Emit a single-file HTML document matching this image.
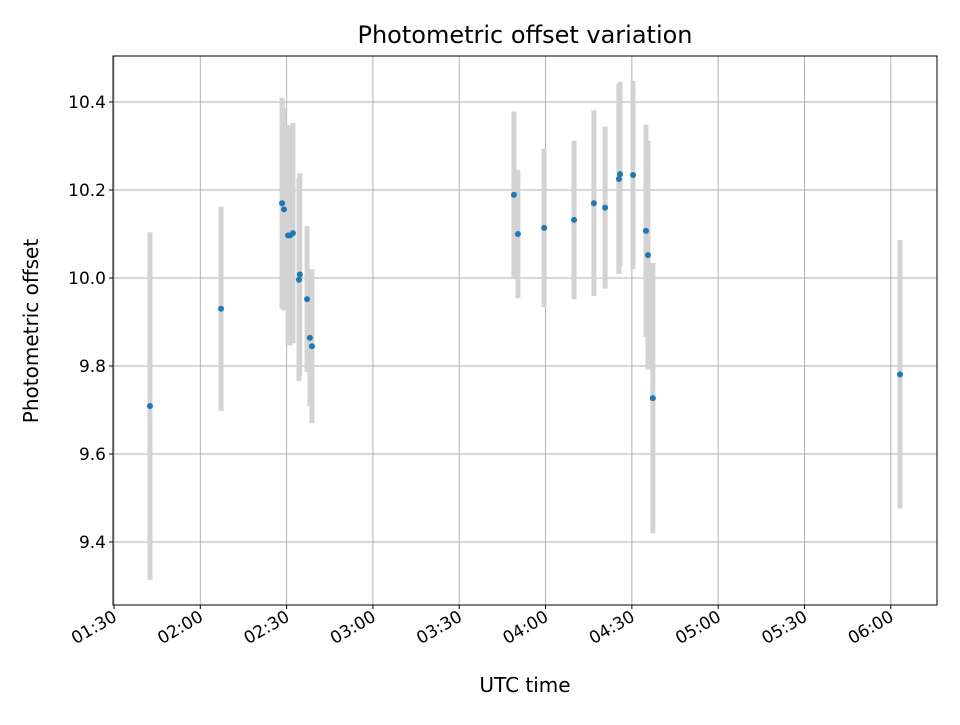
<!DOCTYPE html>
<html><head><meta charset="utf-8"><style>
body{margin:0;background:#fff;}
svg text{font-family:"DejaVu Sans","Liberation Sans",sans-serif;fill:#000;}
</style></head><body>
<svg id="chart" width="960" height="720">
<rect width="960" height="720" fill="#fff"/>
<g id="grid"></g><g id="bars"></g><g id="pts"></g><g id="axes"></g>
<text x="525" y="43" font-size="24" text-anchor="middle">Photometric offset variation</text>
<text x="525" y="692" font-size="20" text-anchor="middle">UTC time</text>
<text transform="translate(38,331) rotate(-90)" font-size="20" text-anchor="middle">Photometric offset</text>
</svg>
<script>
const timesMin=[102.5,127.2,148.4,149.1,150.5,151.2,152.2,154.3,154.6,157.1,158.1,158.8,229,230.4,239.5,249.9,256.8,260.7,265.5,265.9,270.4,274.9,275.6,277.3,363.2];
const values=[9.709,9.93,10.17,10.156,10.097,10.097,10.102,9.996,10.008,9.952,9.864,9.845,10.189,10.1,10.114,10.132,10.17,10.16,10.225,10.236,10.234,10.107,10.052,9.727,9.781];
const errors=[0.395,0.232,0.24,0.23,0.25,0.25,0.25,0.23,0.23,0.166,0.155,0.175,0.189,0.146,0.18,0.18,0.211,0.184,0.216,0.21,0.214,0.241,0.26,0.307,0.305];
const yTicks=[9.4,9.6,9.8,10.0,10.2,10.4];
const xTicks=[90,120,150,180,210,240,270,300,330,360];
const xTickLabels=["01:30","02:00","02:30","03:00","03:30","04:00","04:30","05:00","05:30","06:00"];
const L=113,R=937,T=56,B=605;
const x=m=>114+(m-90)*2.877;
const y=v=>278-(v-10)*440;
const NS="http://www.w3.org/2000/svg";
function mk(tag,attrs,parent){const e=document.createElementNS(NS,tag);for(const k in attrs)e.setAttribute(k,attrs[k]);document.getElementById(parent).appendChild(e);return e;}
yTicks.forEach(t=>{
 const l=mk('line',{x1:L,x2:R,y1:y(t),y2:y(t),stroke:'#b0b0b0','stroke-width':1},'grid');
 
 
 mk('line',{x1:L-4,x2:L,y1:y(t),y2:y(t),stroke:'#000'},'axes');
 const tx=mk('text',{x:L-7,y:y(t)+6,'font-size':17,'text-anchor':'end'},'axes');tx.textContent=t.toFixed(1);
 
 
});
xTicks.forEach((t,i)=>{
 const l=mk('line',{x1:x(t),x2:x(t),y1:T,y2:B,stroke:'#b0b0b0','stroke-width':1},'grid');
 
 
 mk('line',{x1:x(t),x2:x(t),y1:B,y2:B+4,stroke:'#000'},'axes');
 const tx=mk('text',{x:x(t)+4,y:B+15,'font-size':17,'text-anchor':'end',transform:`rotate(-30 ${x(t)+4} ${B+15})`},'axes');tx.textContent=xTickLabels[i];
 
 
});
const fr=mk('rect',{x:L,y:T,width:R-L,height:B-T,fill:'none',stroke:'#000','stroke-width':1},'axes');


timesMin.forEach((m,i)=>{
 const b=mk('line',{x1:x(m),x2:x(m),y1:y(values[i]+errors[i]),y2:y(values[i]-errors[i]),stroke:'#d3d3d3','stroke-width':5},'bars');
 
 
});
timesMin.forEach((m,i)=>{
 const c=mk('circle',{cx:x(m),cy:y(values[i]),r:3,fill:'#1f77b4'},'pts');
 
 
});
</script>
</body></html>
